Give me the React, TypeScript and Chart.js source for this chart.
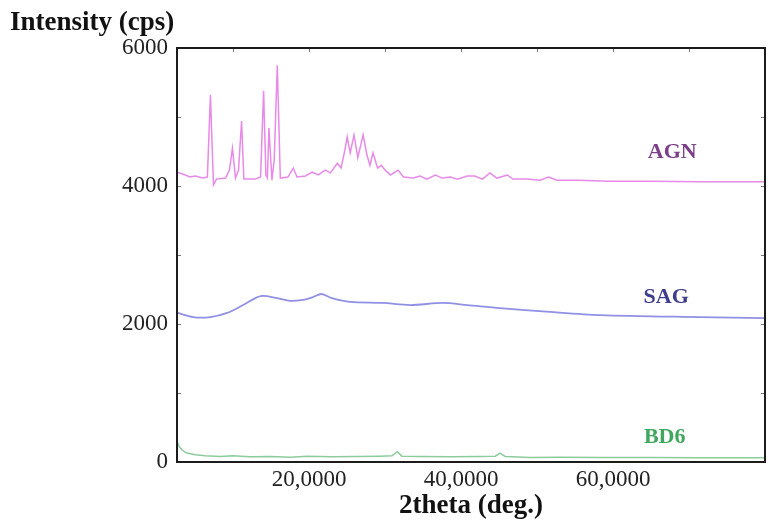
import React, { useEffect, useRef } from "react";
import { Chart, registerables } from "chart.js";

Chart.register(...registerables);

// ---- data (2theta in degrees, intensity in cps) ----
const AGN_X = [2.6, 3.7, 4.3, 5.0, 6.0, 6.6, 7.0, 7.4, 7.8, 9.0, 9.5, 9.9, 10.3, 10.7, 11.1, 11.4, 12.9, 13.6, 14.0, 14.3, 14.5, 14.7, 15.1, 15.4, 15.8, 16.2, 17.2, 17.9, 18.4, 19.5, 20.4, 21.2, 22.1, 22.8, 23.7, 24.2, 24.7, 25.0, 25.4, 25.9, 26.4, 27.1, 27.6, 28.0, 28.4, 29.0, 29.5, 30.0, 30.7, 31.7, 32.4, 33.7, 34.6, 35.5, 36.6, 37.5, 38.6, 39.5, 40.8, 41.8, 42.8, 43.8, 44.7, 46.1, 46.8, 48.7, 50.4, 51.5, 52.6, 55.3, 59.6, 64.9, 71.4, 80.0];
const AGN_Y = [4200, 4160, 4130, 4145, 4115, 4130, 5320, 4015, 4100, 4115, 4230, 4550, 4115, 4230, 4940, 4100, 4100, 4130, 5380, 4160, 4115, 4840, 4085, 4380, 5750, 4115, 4130, 4260, 4130, 4145, 4200, 4160, 4230, 4190, 4330, 4260, 4520, 4710, 4480, 4740, 4410, 4740, 4450, 4300, 4480, 4260, 4300, 4230, 4160, 4230, 4130, 4115, 4145, 4100, 4160, 4115, 4130, 4100, 4145, 4145, 4100, 4190, 4115, 4160, 4100, 4100, 4085, 4130, 4085, 4085, 4070, 4070, 4060, 4060];

const SAG_X = [2.7, 4.7, 7.0, 9.2, 11.3, 13.6, 15.8, 17.5, 19.2, 20.5, 21.6, 23.0, 25.4, 29.7, 33.3, 37.6, 40.8, 45.1, 51.7, 58.3, 71.4, 80.0];
const SAG_Y = [2160, 2100, 2100, 2160, 2275, 2405, 2375, 2335, 2350, 2390, 2435, 2375, 2320, 2305, 2275, 2305, 2275, 2230, 2175, 2130, 2100, 2085];

const BD6_X = [2.6, 2.9, 3.3, 3.9, 5.0, 6.3, 8.3, 9.9, 12.2, 14.9, 17.5, 19.7, 22.8, 26.1, 29.3, 30.9, 31.6, 32.2, 34.6, 38.6, 42.5, 44.5, 45.1, 45.8, 49.1, 53.0, 58.3, 64.9, 71.4, 80.0];
const BD6_Y = [300, 220, 170, 130, 105, 90, 80, 90, 75, 80, 70, 85, 75, 80, 85, 90, 150, 85, 80, 75, 80, 85, 130, 80, 65, 70, 65, 65, 60, 60];

const SERIES_NAMES = ["AGN", "SAG", "BD6"];
const X_TICKS = [20, 40, 60];
const X_TICK_LABELS = ["20,0000", "40,0000", "60,0000"];
const Y_TICKS = [0, 2000, 4000, 6000];

const SERIF = '"Liberation Serif", "Times New Roman", serif';
const LINE_COLORS = ["#e88ae8", "#9090e4", "#8ccc9c"];
const NAME_COLORS = ["#7b3f8a", "#3d3d8e", "#3fa85e"];
// anchor of each series name, in data coordinates
const NAME_POS = [
  [67.8, 4490],
  [67.0, 2390],
  [66.8, 360],
];

const framePlugin = {
  id: "frame",
  afterDraw(chart: any) {
    const { ctx, chartArea: a, scales } = chart;
    ctx.save();
    // series names
    ctx.font = `bold 22px ${SERIF}`;
    ctx.textAlign = "center";
    ctx.textBaseline = "middle";
    SERIES_NAMES.forEach((n, i) => {
      ctx.fillStyle = NAME_COLORS[i];
      ctx.fillText(
        n,
        scales.x.getPixelForValue(NAME_POS[i][0]),
        scales.y.getPixelForValue(NAME_POS[i][1])
      );
    });
    // small inward ticks
    ctx.strokeStyle = "#777";
    ctx.lineWidth = 1;
    ctx.beginPath();
    for (let v = 10; v <= 70; v += 10) {
      const px = Math.round(scales.x.getPixelForValue(v)) + 0.5;
      ctx.moveTo(px, a.top);
      ctx.lineTo(px, a.top + 4);
    }
    for (let v = 1000; v <= 5000; v += 1000) {
      const py = Math.round(scales.y.getPixelForValue(v)) + 0.5;
      ctx.moveTo(a.right, py);
      ctx.lineTo(a.right - 4, py);
      ctx.moveTo(a.left, py);
      ctx.lineTo(a.left + 4, py);
    }
    ctx.stroke();
    // frame
    ctx.strokeStyle = "#1c1c1c";
    ctx.lineWidth = 2;
    ctx.strokeRect(a.left, a.top, a.right - a.left, a.bottom - a.top);
    ctx.restore();
  },
};

export default function App() {
  const ref = useRef<HTMLCanvasElement | null>(null);

  useEffect(() => {
    if (!ref.current) return;
    const mk = (xs: number[], ys: number[]) => xs.map((x, i) => ({ x, y: ys[i] }));
    const chart = new Chart(ref.current, {
      type: "line",
      data: {
        datasets: [
          { label: SERIES_NAMES[0], data: mk(AGN_X, AGN_Y), borderColor: LINE_COLORS[0], borderWidth: 1.5, pointRadius: 0, tension: 0 },
          { label: SERIES_NAMES[1], data: mk(SAG_X, SAG_Y), borderColor: LINE_COLORS[1], borderWidth: 1.8, pointRadius: 0, tension: 0.3 },
          { label: SERIES_NAMES[2], data: mk(BD6_X, BD6_Y), borderColor: LINE_COLORS[2], borderWidth: 1.5, pointRadius: 0, tension: 0 },
        ],
      },
      options: {
        animation: false,
        responsive: false,
        maintainAspectRatio: false,
        layout: { padding: { left: 10, right: 15, top: 0, bottom: 0 } },
        plugins: {
          legend: { display: false },
          tooltip: { enabled: false },
          title: {
            display: true,
            text: "Intensity (cps)",
            align: "start",
            color: "#111",
            font: { family: SERIF, size: 27, weight: "bold" },
            padding: { top: 7, bottom: 8.6 },
          },
        },
        scales: {
          x: {
            type: "linear",
            min: 2.6,
            max: 80,
            grid: { display: false, drawTicks: false },
            border: { display: false },
            afterBuildTicks: (s: any) => {
              s.ticks = X_TICKS.map((v) => ({ value: v }));
            },
            afterFit: (s: any) => {
              s.height = 68;
            },
            ticks: {
              padding: 4,
              color: "#222",
              font: { family: SERIF, size: 23 },
              maxRotation: 0,
              callback: (v: any) => X_TICK_LABELS[X_TICKS.indexOf(Number(v))] ?? "",
            },
            title: {
              display: true,
              text: "2theta (deg.)",
              color: "#111",
              font: { family: SERIF, size: 27, weight: "bold" },
              padding: { top: 0, bottom: 8 },
            },
          },
          y: {
            type: "linear",
            min: 0,
            max: 6000,
            grid: { display: false, drawTicks: false },
            border: { display: false },
            afterBuildTicks: (s: any) => {
              s.ticks = Y_TICKS.map((v) => ({ value: v }));
            },
            afterFit: (s: any) => {
              s.width = 167;
            },
            ticks: {
              padding: 9,
              color: "#222",
              font: { family: SERIF, size: 23 },
              callback: (v: any) => String(v),
            },
          },
        },
      },
      plugins: [framePlugin],
    });
    return () => chart.destroy();
  }, []);

  return (
    <div style={{ position: "fixed", left: 0, top: 0, width: 780, height: 530, background: "#fff" }}>
      <canvas ref={ref} width={780} height={530} style={{ width: 780, height: 530, display: "block" }} />
    </div>
  );
}
